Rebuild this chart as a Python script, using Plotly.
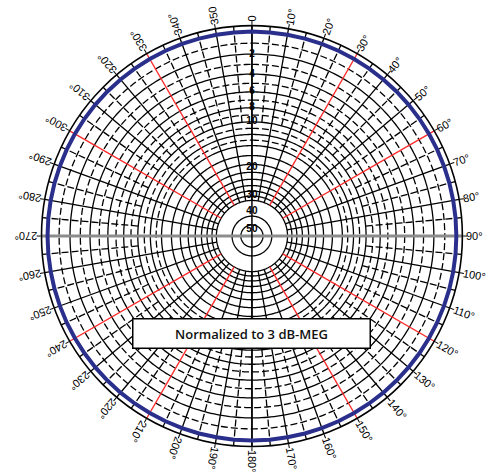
import numpy as np
import plotly.graph_objects as go

# ---------------- data ----------------
angle_ticks = list(range(0, 360, 10))
angle_labels = ["0"] + [f"{a}°" for a in range(10, 350, 10)] + ["350"]

radial_label_db = [-2, -4, -6, -8, -10, -20, -30, -40, -50]
radial_label_text = ["2", "4", "6", "8", "10", "20", "30", "40", "50"]
radial_label_pos = ["middle center"] * 5 + ["top center", "top center", "top center", "bottom center"]

solid_ring_db = [-2, -4, -6, -8, -10, -12, -14, -16, -18, -20, -22, -24, -26, -28, -30, -40, -50]
dashed_ring_db = [-1, -3, -5, -7, -9, -11, -13]

spoke_angles = list(range(0, 360, 10))
half_spoke_angles = list(range(5, 360, 10))
red_spoke_angles = [30, 60, 120, 150, 210, 240, 300, 330]
center_black_angles = [0, 180]
center_gray_angles = [90, 270]

pattern_theta = list(range(0, 361, 5))
pattern_db = [0, 0, 0, 0, 0, 0, 0, 0, 0, 0, 0, 0, 0, 0, 0, 0, 0, 0, 0, 0,
              0, 0, 0, 0, 0, 0, 0, 0, 0, 0, 0, 0, 0, 0, 0, 0, 0, 0, 0, 0,
              0, 0, 0, 0, 0, 0, 0, 0, 0, 0, 0, 0, 0, 0, 0, 0, 0, 0, 0, 0,
              0, 0, 0, 0, 0, 0, 0, 0, 0, 0, 0, 0, 0]

outer_db = 0.5
grid_inner_db = -30
half_spoke_inner_db = -10
center_db = -200
note_text = "Normalized to 3 dB-MEG"


# ARRL log-periodic dB scale
def arrl(db):
    return 0.89 ** (-np.asarray(db, dtype=float) / 2.0)


# ---------------- layout geometry ----------------
W, H = 494, 473
dom_x = [0.084, 0.936]
dom_y = [0.056, 0.946]
cx = (dom_x[0] + dom_x[1]) / 2 * W
cy = (1 - (dom_y[0] + dom_y[1]) / 2) * H
R = min((dom_x[1] - dom_x[0]) * W, (dom_y[1] - dom_y[0]) * H) / 2

fig = go.Figure()

ring_theta = np.arange(0, 361, 1)


def spokes(angles, db_in, db_out):
    rr, tt = [], []
    for a in angles:
        rr += [float(arrl(db_in)), float(arrl(db_out)), None]
        tt += [a, a, None]
    return rr, tt


# dashed rings
for d in dashed_ring_db:
    fig.add_trace(go.Scatterpolar(r=np.full(ring_theta.shape, float(arrl(d))), theta=ring_theta,
                                  mode="lines", line=dict(color="black", width=1.3, dash="7px,3px"),
                                  hoverinfo="skip"))
# solid rings
for d in solid_ring_db:
    fig.add_trace(go.Scatterpolar(r=np.full(ring_theta.shape, float(arrl(d))), theta=ring_theta,
                                  mode="lines", line=dict(color="black", width=1.3),
                                  hoverinfo="skip"))

# dashed half spokes
rr, tt = spokes(half_spoke_angles, half_spoke_inner_db, outer_db)
fig.add_trace(go.Scatterpolar(r=rr, theta=tt, mode="lines",
                              line=dict(color="black", width=1.3, dash="7px,3px"), hoverinfo="skip"))
# solid spokes
rr, tt = spokes([a for a in spoke_angles if a not in red_spoke_angles], grid_inner_db, outer_db)
fig.add_trace(go.Scatterpolar(r=rr, theta=tt, mode="lines",
                              line=dict(color="black", width=1.3), hoverinfo="skip"))
# red spokes
rr, tt = spokes(red_spoke_angles, grid_inner_db, outer_db)
fig.add_trace(go.Scatterpolar(r=rr, theta=tt, mode="lines",
                              line=dict(color="#ff2a2a", width=1.4), hoverinfo="skip"))
# gray horizontal through centre
rr, tt = spokes(center_gray_angles, center_db, outer_db)
fig.add_trace(go.Scatterpolar(r=rr, theta=tt, mode="lines",
                              line=dict(color="#8c8c8c", width=3), hoverinfo="skip"))
# black vertical through centre
rr, tt = spokes(center_black_angles, center_db, outer_db)
fig.add_trace(go.Scatterpolar(r=rr, theta=tt, mode="lines",
                              line=dict(color="black", width=1.5), hoverinfo="skip"))

# pattern (blue)
fig.add_trace(go.Scatterpolar(r=arrl(pattern_db), theta=pattern_theta, mode="lines",
                              line=dict(color="#2b2f8c", width=4), hoverinfo="skip"))

# radial labels along 0 deg
fig.add_trace(go.Scatterpolar(r=arrl(radial_label_db), theta=[0] * len(radial_label_db),
                              mode="text", text=radial_label_text, textposition=radial_label_pos,
                              textfont=dict(family="Liberation Sans", size=10, color="black", weight="bold"),
                              hoverinfo="skip"))

fig.update_layout(
    width=W, height=H,
    margin=dict(l=0, r=0, t=0, b=0),
    paper_bgcolor="white",
    showlegend=False,
    hovermode=False,
    polar=dict(
        domain=dict(x=dom_x, y=dom_y),
        bgcolor="white",
        radialaxis=dict(range=[0, float(arrl(outer_db))], showgrid=False, showline=False,
                        showticklabels=False, ticks=""),
        angularaxis=dict(rotation=90, direction="clockwise", showgrid=False,
                         showticklabels=False, ticks="outside", ticklen=4, tickwidth=1.3,
                         tickcolor="black", tickmode="array", tickvals=angle_ticks,
                         showline=True, linecolor="black", linewidth=1.6),
    ),
)

# rotated angular labels
font_size = 11
ann = []
for a, lab in zip(angle_ticks, angle_labels):
    w = sum(4.4 if ch == "°" else 6.1 for ch in lab)
    rc = R + 4 + w / 2
    th = np.deg2rad(a)
    px = cx + rc * np.sin(th)
    py = cy - rc * np.cos(th)
    ann.append(dict(x=px / W, y=1 - py / H, xref="paper", yref="paper", text=lab,
                    showarrow=False, textangle=a - 90, xanchor="center", yanchor="middle",
                    font=dict(family="Liberation Sans", size=font_size, color="black")))

ann.append(dict(x=251.7 / W, y=1 - 333.5 / H, xref="paper", yref="paper", text=note_text,
                showarrow=False, xanchor="center", yanchor="middle",
                width=234, height=26, bgcolor="white", bordercolor="black", borderwidth=1.5,
                borderpad=1,
                font=dict(family="Open Sans", size=13, color="#111111", weight=600)))
fig.update_layout(annotations=ann)

fig.write_html("out.html", post_script="document.body.style.margin='0';",
               config={"displayModeBar": False})
